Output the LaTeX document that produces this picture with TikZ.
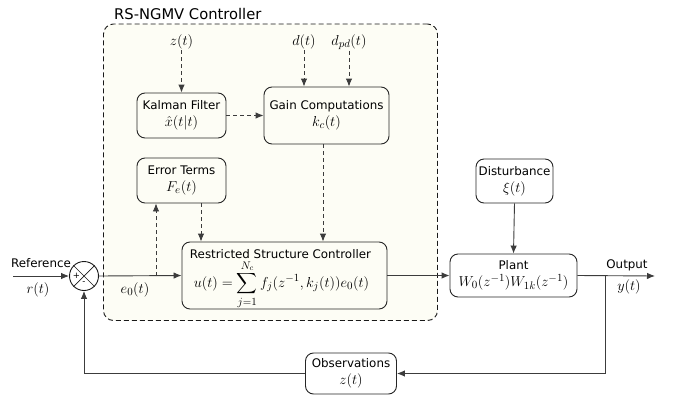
\documentclass[tikz,border=0pt]{standalone}
\usepackage{amsmath}
\usepackage[no-math]{fontspec}
\setmainfont[Scale=0.775]{DejaVu Sans}
\usetikzlibrary{arrows.meta}
\definecolor{cream}{RGB}{253,253,245}
\definecolor{ln}{RGB}{60,60,60}
\begin{document}
\begin{tikzpicture}[x=1pt,y=-1pt,
  font=\fontsize{15.3}{17}\selectfont,
  box/.style={draw=black!85, line width=0.9pt, rounded corners=8pt, align=center, inner sep=0pt},
  cbox/.style={box, fill=cream},
  wbox/.style={box, fill=white},
  arr/.style={-{Latex[length=8pt,width=6.5pt]}, draw=ln, line width=0.9pt},
  darr/.style={arr, dash pattern=on 4pt off 3pt},
  lab/.style={inner sep=1pt}
]
\useasboundingbox (0,0) rectangle (678,397);
% controller region
\node[draw=black!90, line width=0.9pt, dash pattern=on 5pt off 3pt, rounded corners=10pt, fill=cream,
      minimum width=334pt, minimum height=296.5pt, inner sep=0pt] (ctrl) at (270.5,172.25) {};
\node[anchor=west, font=\fontsize{19}{21}\selectfont, inner sep=0pt] (title) at (114,14) {RS-NGMV Controller};

% blocks
\node[cbox, minimum width=89pt, minimum height=45pt] (kal) at (181.5,115.5) {Kalman Filter\\ $\hat{x}(t|t)$};
\node[cbox, minimum width=125pt, minimum height=57pt] (gain) at (326.5,115.5) {Gain Computations\\ $k_c(t)$};
\node[cbox, minimum width=89pt, minimum height=45pt] (err) at (181.5,180.5) {Error Terms\\ $F_e(t)$};
\node[cbox, minimum width=205pt, minimum height=67pt] (rsc) at (284.5,275.5) {};
\node[inner sep=0pt] (rsctitle) at (280.5,254.5) {Restricted Structure Controller};
\node[inner sep=0pt] (rsceq) at (281.5,284.5) {$u(t)=\displaystyle\sum_{j=1}^{N_c} f_j(z^{-1},k_j(t))e_0(t)$};
\node[wbox, minimum width=127pt, minimum height=43pt] (plant) at (513.5,275.5) {Plant\\ $W_0(z^{-1})W_{1k}(z^{-1})$};
\node[wbox, minimum width=77pt, minimum height=44pt] (dist) at (514.5,181) {Disturbance\\ $\xi(t)$};
\node[wbox, minimum width=91pt, minimum height=41pt] (obs) at (351,373.5) {Observations\\ $z(t)$};

% summing junction
\node[circle, draw=black!90, line width=0.9pt, fill=white, minimum size=29pt, inner sep=0pt] (sum) at (84,276) {};
\draw[black!90, line width=0.7pt] (sum.north west) -- (sum.south east) (sum.north east) -- (sum.south west);
\node[font=\fontsize{11}{11}\selectfont, inner sep=0pt] (plus) at (76.5,275.5) {+};
\node[font=\fontsize{11}{11}\selectfont, inner sep=0pt] (minus) at (84,283.5) {-};

% input labels
\node[lab] (zlab) at (181.5,42) {$z(t)$};
\node[lab] (dlab) at (304,42) {$d(t)$};
\node[lab] (dpdlab) at (349,42) {$d_{pd}(t)$};

% dashed connectors
\draw[darr] (zlab.south) -- (kal.north);
\draw[darr] (dlab.south) -- (dlab.south |- gain.north);
\draw[darr] (dpdlab.south) -- (dpdlab.south |- gain.north);
\draw[darr] (kal.east) -- (gain.west);
\draw[darr] ([xshift=19.5pt]err.south) -- ([xshift=19.5pt]err.south |- rsc.north);
\draw[darr] ([xshift=-3.5pt]gain.south) -- ([xshift=-3.5pt]gain.south |- rsc.north);
\coordinate (tap) at (156,276);
\draw[darr] (tap) -- (tap |- err.south);

% solid connectors
\coordinate (refin) at (13,276);
\draw[arr] (refin) -- (sum.west);
\draw[arr] (sum.east) -- (rsc.west);
\draw[arr] (rsc.east) -- (plant.west);
\draw[arr] (dist.south) -- (plant.north);
\coordinate (out) at (655,276);
\draw[arr] (plant.east) -- (out);
\coordinate (br) at (605,276);
\draw[arr] (br) |- (obs.east);
\draw[arr] (obs.west) -| (sum.south);

% signal labels
\node[lab] (reflab) at (41,263) {Reference};
\node[lab] (rlab) at (38,290) {$r(t)$};
\node[lab] (elab) at (135,290) {$e_0(t)$};
\node[lab] (outlab) at (627,265) {Output};
\node[lab] (ylab) at (629,287) {$y(t)$};
\end{tikzpicture}
\end{document}
